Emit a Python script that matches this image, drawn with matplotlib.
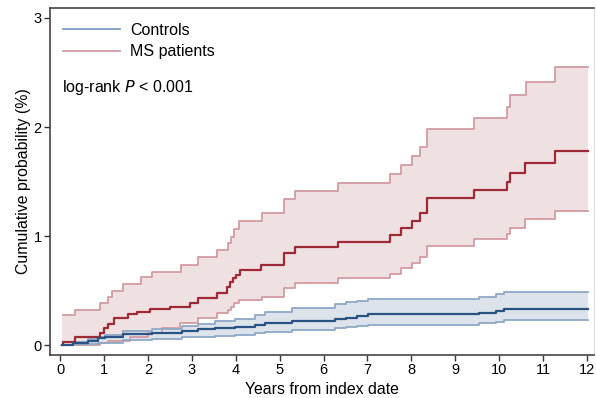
import matplotlib.pyplot as plt
import numpy as np

plt.rcParams['font.family'] = ['Liberation Sans', 'DejaVu Sans']

# MS patients: Kaplan-Meier style step data (years, cumulative %)
ms_x = [0.05, 0.07, 0.34, 0.91, 1.01, 1.10, 1.22, 1.55, 1.75, 2.05, 2.50, 2.95,
        3.15, 3.57, 3.80, 3.87, 3.93, 4.00, 4.10, 4.58, 5.09, 5.35, 6.34, 7.52,
        7.76, 8.01, 8.19, 8.35, 9.43, 10.17, 10.24, 10.59, 11.28, 12.02]
ms_y = [0.0, 0.035, 0.08, 0.118, 0.157, 0.20, 0.25, 0.29, 0.31, 0.33, 0.355, 0.386,
        0.437, 0.483, 0.538, 0.584, 0.615, 0.645, 0.69, 0.736, 0.843, 0.898, 0.95, 1.01,
        1.072, 1.139, 1.21, 1.347, 1.423, 1.50, 1.575, 1.673, 1.78, 1.78]

ms_up_x = [0.07, 0.34, 0.91, 1.10, 1.18, 1.44, 1.84, 2.09, 2.76, 3.15, 3.58, 3.83,
           3.89, 3.95, 4.08, 4.59, 5.09, 5.35, 6.34, 7.52, 7.76, 8.01, 8.19, 8.35,
           9.43, 10.17, 10.25, 10.61, 11.28, 12.02]
ms_up_y = [0.28, 0.325, 0.386, 0.44, 0.50, 0.563, 0.624, 0.675, 0.737, 0.81, 0.873, 0.935,
           0.995, 1.063, 1.142, 1.21, 1.338, 1.416, 1.49, 1.569, 1.651, 1.734, 1.819, 1.981,
           2.079, 2.185, 2.292, 2.414, 2.551, 2.551]

ms_lo_x = [0.05, 0.90, 1.10, 1.60, 2.00, 2.32, 2.73, 3.15, 3.58, 3.83, 3.89, 3.95,
           4.08, 4.59, 5.09, 5.35, 6.34, 7.52, 7.76, 8.01, 8.19, 8.35, 9.43, 10.17,
           10.25, 10.59, 11.28, 12.02]
ms_lo_y = [0.0, 0.02, 0.044, 0.075, 0.11, 0.157, 0.205, 0.249, 0.294, 0.325, 0.355, 0.386,
           0.416, 0.447, 0.523, 0.57, 0.615, 0.654, 0.706, 0.752, 0.807, 0.91, 0.975, 1.025,
           1.08, 1.16, 1.233, 1.233]

# Controls
ct_x = [0.05, 0.30, 0.64, 0.87, 1.03, 1.44, 2.09, 2.77, 3.15, 3.53, 3.99, 4.44,
        4.67, 5.28, 6.26, 6.51, 6.76, 7.02, 9.53, 9.93, 10.10, 12.02]
ct_y = [0.0, 0.02, 0.044, 0.066, 0.08, 0.105, 0.117, 0.135, 0.148, 0.163, 0.172, 0.188,
        0.203, 0.22, 0.242, 0.254, 0.27, 0.285, 0.30, 0.316, 0.334, 0.334]
ct_up_y = [0.0, 0.03, 0.055, 0.08, 0.10, 0.13, 0.15, 0.18, 0.20, 0.22, 0.24, 0.28,
           0.31, 0.345, 0.377, 0.395, 0.41, 0.423, 0.447, 0.471, 0.49, 0.49]
ct_lo_y = [0.0, 0.01, 0.018, 0.022, 0.026, 0.05, 0.06, 0.075, 0.082, 0.09, 0.10, 0.11,
           0.12, 0.142, 0.157, 0.172, 0.18, 0.188, 0.203, 0.218, 0.233, 0.233]


def step_fill(ax, x_lo, y_lo, x_up, y_up, color):
    # merge the two step curves onto a common grid for the shaded band
    grid = np.unique(np.concatenate([x_lo, x_up]))
    lo = np.array(y_lo)[np.clip(np.searchsorted(x_lo, grid, side='right') - 1, 0, None)]
    up = np.array(y_up)[np.clip(np.searchsorted(x_up, grid, side='right') - 1, 0, None)]
    ax.fill_between(grid, lo, up, step='post', color=color, linewidth=0)


fig = plt.figure(figsize=(5.96, 3.98), dpi=100)
ax = fig.add_axes([50 / 596, 43 / 398, 544 / 596, 347 / 398])

ms_dark, ms_light, ms_fill = '#9e2a35', '#d29ba2', '#efe0e2'
ct_dark, ct_light, ct_fill = '#2a5384', '#8ea8c6', '#dde3eb'

step_fill(ax, ms_lo_x, ms_lo_y, ms_up_x, ms_up_y, ms_fill)
step_fill(ax, ct_x, ct_lo_y, ct_x, ct_up_y, ct_fill)

ax.step(ms_up_x, ms_up_y, where='post', color=ms_light, lw=1.3)
ax.step(ms_lo_x, ms_lo_y, where='post', color=ms_light, lw=1.3)
ax.step(ct_x, ct_up_y, where='post', color=ct_light, lw=1.3)
ax.step(ct_x, ct_lo_y, where='post', color=ct_light, lw=1.3)
ax.step(ms_x, ms_y, where='post', color=ms_dark, lw=1.6)
ax.step(ct_x, ct_y, where='post', color=ct_dark, lw=1.6)

# legend handles
ax.plot([], [], color='#7f9ec3', lw=1.3, label='Controls')
ax.plot([], [], color='#d39aa1', lw=1.3, label='MS patients')
handles, labels = ax.get_legend_handles_labels()
ax.legend(handles[-2:], labels[-2:], loc='upper left', frameon=False, fontsize=11.5,
          handlelength=3.6, handletextpad=0.6, borderaxespad=0.0, labelspacing=0.4,
          bbox_to_anchor=(0.012, 0.975))

ax.text(0.022, 0.77, 'log-rank $\\mathit{P}$ < 0.001', transform=ax.transAxes,
        fontsize=11.5, va='center')

ax.set_xlim(-0.23, 12.16)
ax.set_ylim(-0.087, 3.09)
ax.set_xticks(range(0, 13))
ax.set_yticks([0, 1, 2, 3])
ax.tick_params(direction='out', length=4, width=1, colors='#333333', labelsize=10.5,
               labelcolor='black', pad=2)
for side in ['left', 'bottom', 'top']:
    ax.spines[side].set_color('#444444')
    ax.spines[side].set_linewidth(1.2)
ax.spines['right'].set_color('#dddddd')
ax.spines['right'].set_linewidth(0.8)

ax.set_xlabel('Years from index date', fontsize=11.4, labelpad=3)
ax.set_ylabel('Cumulative probability (%)', fontsize=11.4, labelpad=2)

fig.savefig('out.png', dpi=100)
